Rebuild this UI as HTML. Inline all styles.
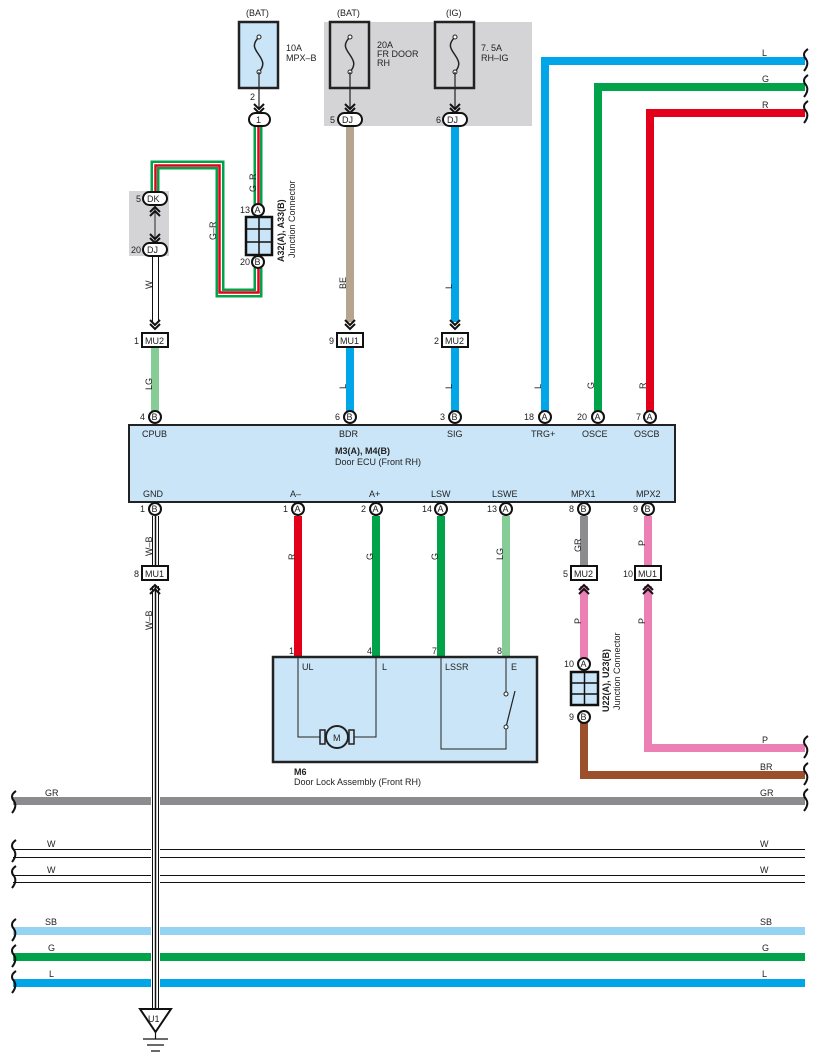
<!DOCTYPE html>
<html><head><meta charset="utf-8"><style>
html,body{margin:0;padding:0;background:#fff}
svg{display:block}
text{font-family:"Liberation Sans",sans-serif;font-size:9px;fill:#222}
</style></head><body>
<svg width="818" height="1062" viewBox="0 0 818 1062" xmlns="http://www.w3.org/2000/svg">
<defs>
<g id="chev"><path d="M-5,-6 L0,-1 L5,-6 M-5,-2 L0,3 L5,-2" fill="none" stroke="#111" stroke-width="2"/></g>
<g id="chevup"><path d="M-5,6 L0,1 L5,6 M-5,2 L0,-3 L5,2" fill="none" stroke="#111" stroke-width="2"/></g>
</defs>
<rect x="324" y="22" width="208" height="104" fill="#d4d4d6"/>
<rect x="129" y="191" width="40" height="65" fill="#d4d4d6"/>

<g stroke="#222" stroke-width="2.5">
<rect x="239" y="22" width="39" height="66" fill="#c9e5f7"/>
<rect x="330" y="22" width="39" height="66" fill="#d4d4d6"/>
<rect x="435" y="22" width="39" height="66" fill="#d4d4d6"/>
</g>
<g fill="none" stroke="#222" stroke-width="1.5">
<path d="M259,37 c-8,8 -4,12 0,18 c4,6 6,10 0,17"/>
<path d="M350,37 c-8,8 -4,12 0,18 c4,6 6,10 0,17"/>
<path d="M455,37 c-8,8 -4,12 0,18 c4,6 6,10 0,17"/>
</g>
<g fill="#fff" stroke="#222" stroke-width="1"><circle cx="259" cy="37" r="2"/><circle cx="259" cy="72" r="2"/><circle cx="350" cy="37" r="2"/><circle cx="350" cy="72" r="2"/><circle cx="455" cy="37" r="2"/><circle cx="455" cy="72" r="2"/></g>
<g stroke="#222" stroke-width="1.2"><line x1="259" y1="72" x2="259" y2="110"/><line x1="350" y1="72" x2="350" y2="110"/><line x1="455" y1="72" x2="455" y2="110"/></g>
<use href="#chev" x="259" y="110"/><use href="#chev" x="350" y="110"/><use href="#chev" x="455" y="110"/>
<text x="246" y="16">(BAT)</text><text x="337" y="16">(BAT)</text><text x="446" y="16">(IG)</text>
<text x="286" y="51">10A</text><text x="286" y="61">MPX–B</text>
<text x="377" y="48">20A</text><text x="377" y="57">FR DOOR</text><text x="377" y="66">RH</text>
<text x="481" y="51">7. 5A</text><text x="481" y="61">RH–IG</text>
<text x="250" y="100">2</text>

<line x1="350" y1="126" x2="350" y2="322" stroke="#b5a48e" stroke-width="8"/>
<line x1="455" y1="126" x2="455" y2="322" stroke="#00a6e8" stroke-width="8"/>
<use href="#chev" x="350" y="326"/><use href="#chev" x="455" y="326"/><use href="#chev" x="155" y="326"/>
<path d="M258,126 V205 M258,268 V293 H220 V165 H155 V193" fill="none" stroke="#00a34a" stroke-width="9"/>
<path d="M258,126 V205 M258,268 V293 H220 V165 H155 V193" fill="none" stroke="#fff" stroke-width="4"/>
<path d="M258.5,126 V205 M258.5,268 V292.5 H219.5 V165.5 H155.5 V193" fill="none" stroke="#e2001a" stroke-width="2.5"/>
<line x1="152.5" y1="255" x2="152.5" y2="322" stroke="#111" stroke-width="1"/>
<line x1="158.5" y1="255" x2="158.5" y2="322" stroke="#111" stroke-width="1"/>
<line x1="155" y1="205" x2="155" y2="243" stroke="#444" stroke-width="1.2"/>
<use href="#chevup" x="155" y="210"/><use href="#chev" x="155" y="240"/>

<g fill="#fff" stroke="#111" stroke-width="2">
<rect x="249" y="113" width="21" height="13" rx="6.5"/>
<rect x="338" y="113" width="24" height="13" rx="6.5"/>
<rect x="443" y="113" width="24" height="13" rx="6.5"/>
<rect x="143" y="192" width="24" height="13" rx="6.5"/>
<rect x="143" y="243" width="24" height="13" rx="6.5"/>
</g>
<text x="256" y="123">1</text><text x="342" y="123">DJ</text><text x="447" y="123">DJ</text><text x="147" y="202">DK</text><text x="147" y="253">DJ</text>
<text x="330" y="123">5</text><text x="436" y="123">6</text><text x="136" y="202">5</text><text x="131" y="253">20</text>

<rect x="246" y="217" width="26" height="38" fill="#c9e5f7" stroke="#111" stroke-width="2.5"/>
<path d="M259,218 V254 M247,229 H271 M247,242 H271" stroke="#111" stroke-width="1.5"/>
<g fill="#fff" stroke="#111" stroke-width="2"><circle cx="258" cy="210" r="6"/><circle cx="258" cy="262" r="6"/></g>
<text x="254.5" y="213">A</text><text x="254.5" y="265">B</text>
<text x="240" y="213">13</text><text x="240" y="265">20</text>
<text transform="translate(284,262) rotate(-90)" style="font-weight:bold">A32(A), A33(B)</text>
<text transform="translate(295,258) rotate(-90)">Junction Connector</text>
<text transform="translate(256,192) rotate(-90)">G–R</text>
<text transform="translate(216,240) rotate(-90)">G–R</text>
<text transform="translate(152,289) rotate(-90)">W</text>
<text transform="translate(346,289) rotate(-90)">BE</text>
<text transform="translate(452,289) rotate(-90)">L</text>

<line x1="155" y1="347" x2="155" y2="412" stroke="#86cc97" stroke-width="8"/>
<line x1="350" y1="347" x2="350" y2="412" stroke="#00a6e8" stroke-width="8"/>
<line x1="455" y1="347" x2="455" y2="412" stroke="#00a6e8" stroke-width="8"/>
<g fill="#fff" stroke="#111" stroke-width="2">
<rect x="142" y="333" width="26" height="14"/><rect x="337" y="333" width="26" height="14"/><rect x="442" y="333" width="26" height="14"/>
</g>
<text x="145" y="344">MU2</text><text x="340" y="344">MU1</text><text x="445" y="344">MU2</text>
<text x="134" y="344">1</text><text x="329" y="344">9</text><text x="434" y="344">2</text>
<text transform="translate(152,390) rotate(-90)">LG</text>
<text transform="translate(346,389) rotate(-90)">L</text>
<text transform="translate(452,389) rotate(-90)">L</text>

<path d="M545,412 V61 H805" fill="none" stroke="#00a6e8" stroke-width="8"/>
<path d="M598,412 V87 H805" fill="none" stroke="#00a34a" stroke-width="8"/>
<path d="M650,412 V113 H805" fill="none" stroke="#e2001a" stroke-width="8"/>
<text x="762" y="56">L</text><text x="762" y="82">G</text><text x="762" y="108">R</text>
<text transform="translate(541,389) rotate(-90)">L</text>
<text transform="translate(594,389) rotate(-90)">G</text>
<text transform="translate(646,389) rotate(-90)">R</text>

<rect x="129" y="425" width="546" height="77" fill="#c9e5f7" stroke="#222" stroke-width="2"/>
<g fill="#fff" stroke="#111" stroke-width="2">
<circle cx="155" cy="417" r="6"/><circle cx="350" cy="417" r="6"/><circle cx="455" cy="417" r="6"/><circle cx="545" cy="417" r="6"/><circle cx="598" cy="417" r="6"/><circle cx="650" cy="417" r="6"/>
<circle cx="155" cy="509" r="6"/><circle cx="298" cy="509" r="6"/><circle cx="376" cy="509" r="6"/><circle cx="441" cy="509" r="6"/><circle cx="506" cy="509" r="6"/><circle cx="584" cy="509" r="6"/><circle cx="648" cy="509" r="6"/>
</g>
<g>
<text x="151.5" y="420">B</text><text x="346.5" y="420">B</text><text x="451.5" y="420">B</text><text x="541.5" y="420">A</text><text x="594.5" y="420">A</text><text x="646.5" y="420">A</text>
<text x="151.5" y="512">B</text><text x="294.5" y="512">A</text><text x="372.5" y="512">A</text><text x="437.5" y="512">A</text><text x="502.5" y="512">A</text><text x="580.5" y="512">B</text><text x="644.5" y="512">B</text>
<text x="140" y="420">4</text><text x="335" y="420">6</text><text x="440" y="420">3</text><text x="524" y="420">18</text><text x="577" y="420">20</text><text x="636" y="420">7</text>
<text x="140" y="512">1</text><text x="283" y="512">1</text><text x="361" y="512">2</text><text x="422" y="512">14</text><text x="487" y="512">13</text><text x="569" y="512">8</text><text x="633" y="512">9</text>
<text x="142" y="437">CPUB</text><text x="339" y="437">BDR</text><text x="447" y="437">SIG</text><text x="531" y="437">TRG+</text><text x="582" y="437">OSCE</text><text x="634" y="437">OSCB</text>
<text x="335" y="454" style="font-weight:bold">M3(A), M4(B)</text><text x="335" y="465">Door ECU (Front RH)</text>
<text x="143" y="497">GND</text><text x="290" y="497">A–</text><text x="369" y="497">A+</text><text x="431" y="497">LSW</text><text x="492" y="497">LSWE</text><text x="571" y="497">MPX1</text><text x="636" y="497">MPX2</text>
</g>

<line x1="298" y1="516" x2="298" y2="657" stroke="#e2001a" stroke-width="8"/>
<line x1="376" y1="516" x2="376" y2="657" stroke="#00a34a" stroke-width="8"/>
<line x1="441" y1="516" x2="441" y2="657" stroke="#00a34a" stroke-width="8"/>
<line x1="506" y1="516" x2="506" y2="657" stroke="#86cc97" stroke-width="8"/>
<line x1="584" y1="516" x2="584" y2="566" stroke="#8c8c8e" stroke-width="8"/>
<line x1="648" y1="516" x2="648" y2="566" stroke="#ec80b4" stroke-width="8"/>
<line x1="584" y1="586" x2="584" y2="658" stroke="#ec80b4" stroke-width="8"/>
<path d="M648,586 V748 H805" fill="none" stroke="#ec80b4" stroke-width="8"/>
<path d="M584,722 V775 H805" fill="none" stroke="#9b4f2a" stroke-width="8"/>
<text transform="translate(295,560) rotate(-90)">R</text>
<text transform="translate(373,560) rotate(-90)">G</text>
<text transform="translate(438,560) rotate(-90)">G</text>
<text transform="translate(503,560) rotate(-90)">LG</text>
<text transform="translate(581,552) rotate(-90)">GR</text>
<text transform="translate(645,546) rotate(-90)">P</text>
<text transform="translate(581,624) rotate(-90)">P</text>
<text transform="translate(645,624) rotate(-90)">P</text>
<text x="762" y="743">P</text><text x="760" y="770">BR</text>

<g fill="#fff" stroke="#111" stroke-width="2">
<rect x="142" y="566" width="26" height="14"/><rect x="571" y="566" width="26" height="14"/><rect x="635" y="566" width="26" height="14"/>
</g>
<text x="145" y="577">MU1</text><text x="574" y="577">MU2</text><text x="638" y="577">MU1</text>
<text x="134" y="577">8</text><text x="563" y="577">5</text><text x="623" y="577">10</text>
<use href="#chevup" x="584" y="588"/><use href="#chevup" x="648" y="588"/>

<rect x="571" y="672" width="27" height="33" fill="#c9e5f7" stroke="#111" stroke-width="2.5"/>
<path d="M584.5,673 V704 M572,683 H597 M572,694 H597" stroke="#111" stroke-width="1.5"/>
<g fill="#fff" stroke="#111" stroke-width="2"><circle cx="584" cy="664" r="6"/><circle cx="584" cy="717" r="6"/></g>
<text x="580.5" y="667">A</text><text x="580.5" y="720">B</text>
<text x="564" y="667">10</text><text x="569" y="720">9</text>
<text transform="translate(609,712) rotate(-90)" style="font-weight:bold">U22(A), U23(B)</text>
<text transform="translate(620,710) rotate(-90)">Junction Connector</text>

<rect x="273" y="657" width="264" height="105" fill="#c9e5f7" stroke="#222" stroke-width="2.5"/>
<path d="M298,658 V737 H320 M353,737 H376 V658" fill="none" stroke="#222" stroke-width="1"/>
<path d="M441,658 V749 H506 V727 M506,658 V692" fill="none" stroke="#222" stroke-width="1"/>
<circle cx="337" cy="737" r="11" fill="#c9e5f7" stroke="#222" stroke-width="2"/>
<rect x="320" y="730" width="5" height="14" fill="#c9e5f7" stroke="#222" stroke-width="1.5"/>
<rect x="349" y="730" width="5" height="14" fill="#c9e5f7" stroke="#222" stroke-width="1.5"/>
<text x="333" y="741">M</text>
<line x1="506" y1="727" x2="515" y2="691" stroke="#222" stroke-width="1.2"/>
<circle cx="506" cy="694" r="2" fill="#fff" stroke="#222"/><circle cx="506" cy="727" r="2" fill="#fff" stroke="#222"/>
<text x="302" y="670">UL</text><text x="382" y="670">L</text><text x="445" y="670">LSSR</text><text x="511" y="670">E</text>
<text x="289" y="654">1</text><text x="367" y="654">4</text><text x="432" y="654">7</text><text x="497" y="654">8</text>
<text x="294" y="775" style="font-weight:bold">M6</text><text x="294" y="785">Door Lock Assembly (Front RH)</text>

<g>
<rect x="13" y="797" width="138" height="8" fill="#8c8c8e"/><rect x="160" y="797" width="645" height="8" fill="#8c8c8e"/>
<rect x="13" y="927" width="138" height="8" fill="#95d3f2"/><rect x="160" y="927" width="645" height="8" fill="#95d3f2"/>
<rect x="13" y="953" width="138" height="8" fill="#00a34a"/><rect x="160" y="953" width="645" height="8" fill="#00a34a"/>
<rect x="13" y="979" width="138" height="8" fill="#00a6e8"/><rect x="160" y="979" width="645" height="8" fill="#00a6e8"/>
</g>
<g stroke="#111" stroke-width="1">
<path d="M13,849.5 H151 M160,849.5 H805 M13,857.5 H151 M160,857.5 H805"/>
<path d="M13,875.5 H151 M160,875.5 H805 M13,882.5 H151 M160,882.5 H805"/>
</g>
<text x="45" y="796">GR</text><text x="760" y="796">GR</text>
<text x="47" y="847">W</text><text x="760" y="847">W</text>
<text x="47" y="873">W</text><text x="760" y="873">W</text>
<text x="45" y="925">SB</text><text x="760" y="925">SB</text>
<text x="48" y="951">G</text><text x="762" y="951">G</text>
<text x="49" y="977">L</text><text x="762" y="977">L</text>
<g fill="none" stroke="#111" stroke-width="2">
<path d="M16,791 c-6,4 -4,8 -2,10 c2,3 2,7 -2,12"/>
<path d="M16,840 c-6,4 -4,8 -2,10 c2,3 2,7 -2,12 M16,866 c-6,4 -4,8 -2,10 c2,3 2,7 -2,12"/>
<path d="M16,919 c-6,4 -4,8 -2,10 c2,3 2,7 -2,12 M16,945 c-6,4 -4,8 -2,10 c2,3 2,7 -2,12 M16,971 c-6,4 -4,8 -2,10 c2,3 2,7 -2,12"/>
<path d="M808,49 c-6,4 -4,8 -2,10 c2,3 2,7 -2,12 M808,75 c-6,4 -4,8 -2,10 c2,3 2,7 -2,12 M808,101 c-6,4 -4,8 -2,10 c2,3 2,7 -2,12"/>
<path d="M808,736 c-6,4 -4,8 -2,10 c2,3 2,7 -2,12 M808,763 c-6,4 -4,8 -2,10 c2,3 2,7 -2,12 M808,789 c-6,4 -4,8 -2,10 c2,3 2,7 -2,12"/>
</g>

<g stroke="#111" stroke-width="1">
<path d="M152.5,516 V566 M158.5,516 V566 M152.5,586 V1010 M158.5,586 V1010"/>
</g>
<line x1="155.5" y1="516" x2="155.5" y2="566" stroke="#111" stroke-width="1.5"/>
<line x1="155.5" y1="586" x2="155.5" y2="1010" stroke="#111" stroke-width="1.5"/>
<use href="#chevup" x="155" y="588"/>
<text transform="translate(152,556) rotate(-90)">W–B</text>
<text transform="translate(152,630) rotate(-90)">W–B</text>
<path d="M140,1009 H171 L155.5,1032 Z" fill="#fff" stroke="#111" stroke-width="2"/>
<text x="148" y="1022">U1</text>
<path d="M155.5,1032 V1039 M143,1039 H168 M147,1045 H164 M151,1051 H160" stroke="#111" stroke-width="1.2"/>
</svg>
</body></html>
